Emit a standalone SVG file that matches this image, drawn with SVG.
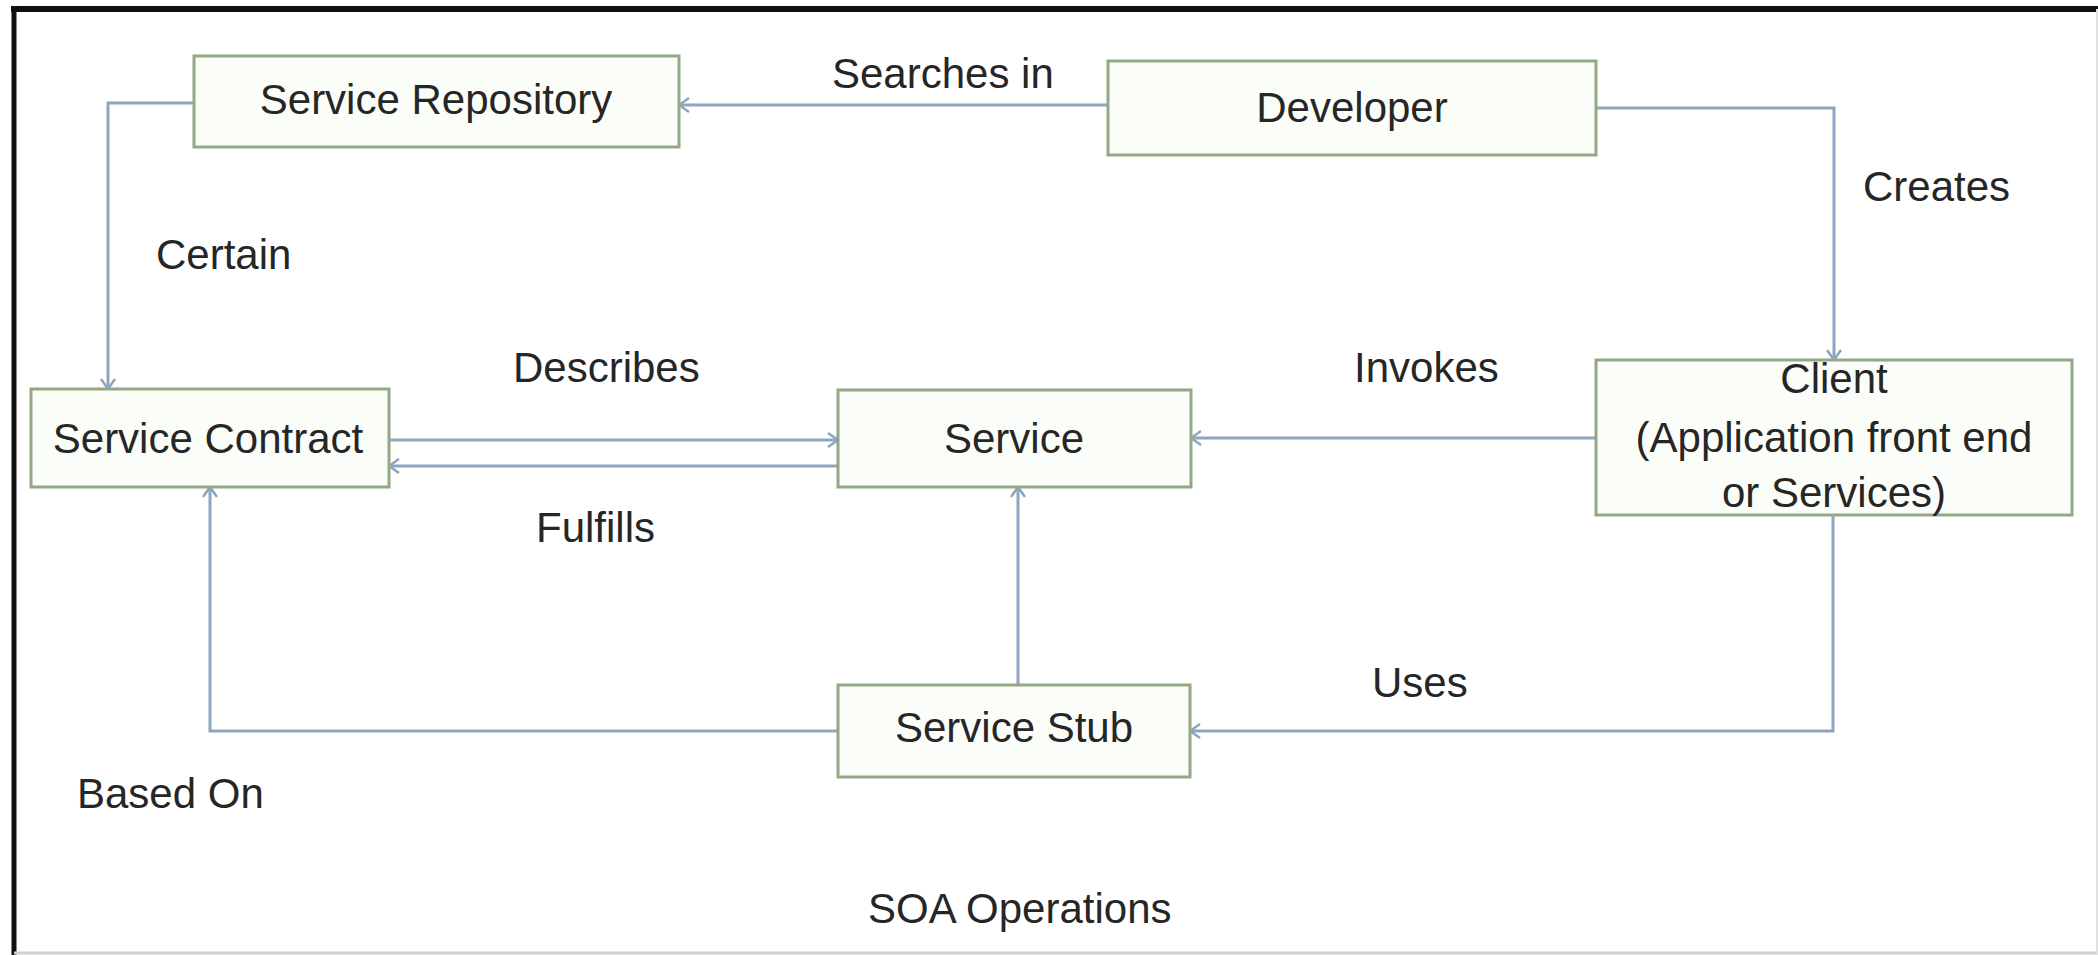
<svg xmlns="http://www.w3.org/2000/svg" width="2098" height="955" viewBox="0 0 2098 955">
<style>
.box{fill:#fbfdf8;stroke:#93a884;stroke-width:3}
.t{font-family:"Liberation Sans",Arial,sans-serif;font-size:42px;fill:#262626}
.c{text-anchor:middle}
.ln{fill:none;stroke:#8ea5bf;stroke-width:3}
</style>
<defs>
<marker id="arr" viewBox="0 0 12 16" refX="11" refY="8" markerWidth="12" markerHeight="16" markerUnits="userSpaceOnUse" orient="auto">
<path d="M1,1 L11,8 L1,15" fill="none" stroke="#8ea5bf" stroke-width="2.5"/>
</marker>
</defs>
<rect x="0" y="0" width="2098" height="955" fill="#ffffff"/>
<g id="frame">
<line x1="11" y1="9" x2="2098" y2="9" stroke="#111" stroke-width="6"/>
<line x1="14" y1="6" x2="14" y2="955" stroke="#111" stroke-width="5"/>
<line x1="14" y1="953" x2="2098" y2="953" stroke="#cfcfcf" stroke-width="3"/>
<line x1="2097" y1="9" x2="2097" y2="955" stroke="#e0e0e0" stroke-width="2"/>
</g>
<g id="connectors">
<path class="ln" d="M1108,105 H679" marker-end="url(#arr)"/>
<path class="ln" d="M194,103 H108 V389" marker-end="url(#arr)"/>
<path class="ln" d="M1596,108 H1834 V360" marker-end="url(#arr)"/>
<path class="ln" d="M389,440 H838" marker-end="url(#arr)"/>
<path class="ln" d="M838,466 H389" marker-end="url(#arr)"/>
<path class="ln" d="M1596,438 H1191" marker-end="url(#arr)"/>
<path class="ln" d="M1833,515 V731 H1190" marker-end="url(#arr)"/>
<path class="ln" d="M1018,685 V487" marker-end="url(#arr)"/>
<path class="ln" d="M838,731 H210 V487" marker-end="url(#arr)"/>
</g>
<g id="labels">
<text class="t" x="832" y="88">Searches in</text>
<text class="t" x="156" y="269">Certain</text>
<text class="t" x="1863" y="201">Creates</text>
<text class="t" x="513" y="382">Describes</text>
<text class="t" x="536" y="542">Fulfills</text>
<text class="t" x="1354" y="382">Invokes</text>
<text class="t" x="1372" y="697">Uses</text>
<text class="t" x="77" y="808">Based On</text>
<text class="t" x="868" y="923">SOA Operations</text>
</g>
<g id="service-repository">
<rect class="box" x="194" y="56" width="485" height="91"/>
<text class="t c" x="436" y="114">Service Repository</text>
</g>
<g id="developer">
<rect class="box" x="1108" y="61" width="488" height="94"/>
<text class="t c" x="1352" y="122">Developer</text>
</g>
<g id="service-contract">
<rect class="box" x="31" y="389" width="358" height="98"/>
<text class="t c" x="208" y="453">Service Contract</text>
</g>
<g id="service">
<rect class="box" x="838" y="390" width="353" height="97"/>
<text class="t c" x="1014" y="453">Service</text>
</g>
<g id="client">
<rect class="box" x="1596" y="360" width="476" height="155"/>
<text class="t c" x="1834" y="393">Client</text>
<text class="t c" x="1834" y="452">(Application front end</text>
<text class="t c" x="1834" y="507">or Services)</text>
</g>
<g id="service-stub">
<rect class="box" x="838" y="685" width="352" height="92"/>
<text class="t c" x="1014" y="742">Service Stub</text>
</g>
</svg>
